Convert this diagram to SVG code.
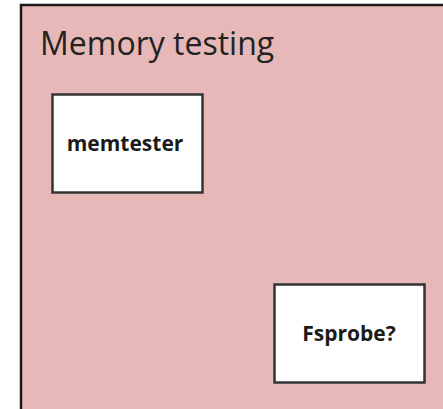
<svg xmlns="http://www.w3.org/2000/svg" width="443" height="409" viewBox="0 0 443 409">
<style>
.node rect{fill:#ffffff;stroke:#333333;stroke-width:2.5}
.node text{font-family:"Open Sans","Noto Sans",sans-serif;font-weight:bold;font-size:21px;fill:#1a1a1a;text-anchor:middle}
.title{font-family:"Open Sans","Noto Sans",sans-serif;font-size:32px;fill:#222222}
</style>
<rect width="443" height="409" fill="#ffffff"/>
<g id="memory-testing">
<rect x="21" y="5" width="430" height="414" fill="#e6b8b7" stroke="#1a1a1a" stroke-width="2.5"/>
<text class="title" x="40" y="55">Memory testing</text>
</g>
<g id="memtester" class="node">
<rect x="52.5" y="94.5" width="150" height="98"/>
<text x="125" y="151">memtester</text>
</g>
<g id="fsprobe" class="node">
<rect x="274.5" y="284.5" width="150" height="98"/>
<text x="349" y="341">Fsprobe?</text>
</g>
<g id="connectors"></g>
</svg>
